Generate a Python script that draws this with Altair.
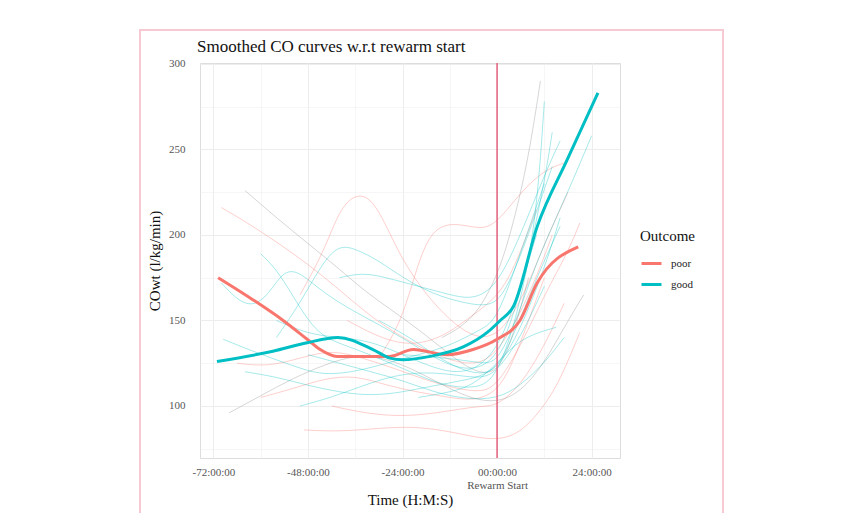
import altair as alt
import pandas as pd

# ---------------- data ----------------
chart_title = "Smoothed CO curves w.r.t rewarm start"

# individual smoothed patient curves: hours relative to rewarm start, COwt values
curve_tone = {
    "p1": "poor", "p2": "poor", "p3": "poor", "p4": "poor", "p5": "poor",
    "p6": "poor", "p7": "poor", "p8": "poor",
    "g1": "mixed", "g2": "mixed", "g3": "mixed",
    "c1": "good", "c2": "good", "c3": "good", "c4": "good", "c5": "good",
    "c6": "good", "c7": "good", "c8": "good", "c9": "good", "c10": "good",
    "c11": "good", "c12": "good",
}
curve_hours = {
    "p1": [-70, -64, -56, -48, -40, -32, -24, -16, -8, -2, 4, 10, 14],
    "p2": [-50, -44, -40, -36, -32, -28, -24, -18, -12, -6, 0, 6, 12, 18],
    "p3": [-30, -24, -20, -16, -10, -4, 0, 6, 12, 17],
    "p4": [-49, -40, -30, -22, -14, -6, 0, 6, 12, 16, 21],
    "p5": [-42, -34, -26, -18, -10, -4, 0, 6, 12, 17],
    "p6": [-66, -58, -50, -42, -34, -26, -18, -10, -4, 0, 6, 12, 18, 21],
    "p7": [-60, -52, -44, -36, -28, -20, -12, -6, 0, 4, 8, 12],
    "p8": [-38, -30, -22, -14, -8, -2, 2, 6, 10],
    "g1": [-64, -56, -48, -40, -34, -28, -20, -12, -6, 0, 4, 8],
    "g2": [-68, -60, -52, -44, -36, -28, -20, -12, -6, 0, 6, 12, 18, 22],
    "g3": [-14, -6, 0, 4, 8, 11],
    "c1": [-70, -66, -62, -58, -54, -50, -46, -40, -32, -24, -16, -8, 0, 6, 12, 14],
    "c2": [-60, -56, -52, -48, -44, -38, -30, -22, -14, -6, 0, 6, 10, 12],
    "c3": [-56, -50, -44, -40, -36, -30, -24, -16, -8, -2, 2, 8, 14],
    "c4": [-69.5, -62, -56, -50, -44, -36, -28, -20, -12, -4, 0, 6, 12],
    "c5": [-64, -56, -48, -40, -32, -24, -16, -8, 0, 6, 12, 16],
    "c6": [-50, -42, -34, -26, -18, -10, -4, 0, 6, 12],
    "c7": [-40, -34, -28, -20, -12, -6, 0, 6, 12, 16],
    "c8": [-30, -22, -16, -10, -4, 0, 4, 10, 16],
    "c9": [-48, -40, -32, -24, -16, -8, 0, 6, 12, 17],
    "c10": [-20, -12, -6, 0, 6, 15],
    "c11": [-24, -12, -4, 0, 5, 10, 18, 24],
    "c12": [-56, -48, -40, -32, -24, -16, -8, 0, 6, 10],
}
curve_values = {
    "p1": [216, 208, 196, 183, 168, 152, 140, 130, 124, 126, 145, 175, 200],
    "p2": [165, 190, 215, 224, 222, 205, 185, 165, 150, 140, 140, 160, 195, 225],
    "p3": [128, 150, 185, 205, 207, 203, 207, 225, 238, 242],
    "p4": [86, 85, 87, 88, 86, 82, 80, 84, 100, 115, 143],
    "p5": [100, 96, 94, 95, 98, 100, 100, 112, 135, 160],
    "p6": [125, 123, 128, 133, 128, 122, 115, 110, 108, 112, 135, 165, 190, 207],
    "p7": [105, 110, 116, 118, 112, 108, 105, 103, 108, 125, 150, 175],
    "p8": [150, 140, 135, 140, 150, 160, 170, 190, 215],
    "g1": [226, 210, 195, 180, 168, 158, 145, 130, 120, 118, 140, 175],
    "g2": [96, 106, 116, 124, 130, 128, 120, 110, 104, 102, 108, 125, 150, 165],
    "g3": [140, 150, 175, 205, 245, 290],
    "c1": [172, 162, 158, 165, 180, 178, 170, 160, 150, 140, 128, 120, 125, 165, 230, 260],
    "c2": [189, 180, 165, 150, 140, 135, 128, 120, 112, 110, 115, 160, 210, 278],
    "c3": [140, 160, 185, 194, 192, 185, 175, 165, 160, 158, 165, 200, 240],
    "c4": [139, 132, 127, 122, 118, 120, 125, 130, 135, 145, 150, 190, 230],
    "c5": [120, 117, 112, 108, 106, 108, 112, 115, 120, 145, 180, 210],
    "c6": [100, 105, 112, 118, 120, 118, 116, 120, 140, 170],
    "c7": [175, 178, 175, 170, 165, 162, 170, 200, 235, 255],
    "c8": [150, 140, 130, 122, 118, 122, 140, 175, 205],
    "c9": [130, 125, 120, 115, 108, 104, 104, 112, 125, 140],
    "c10": [105, 108, 112, 125, 140, 146],
    "c11": [130, 128, 125, 125, 150, 185, 225, 258],
    "c12": [150, 142, 140, 138, 130, 122, 118, 130, 170, 200],
}

# group mean curves (thick lines)
poor_hours = [-70.8, -61.9, -54.3, -48.2, -44.9, -40.6, -31.5, -27.2, -21.3, -12.7, -6.1, 0, 5.8, 10.2, 20.6]
poor_values = [175, 162, 150, 139, 133, 129, 129, 129, 133, 130, 133, 139, 150, 172, 193]
good_hours = [-71.1, -56.9, -48.2, -40.4, -31.5, -27.2, -23.9, -17.0, -8.6, -2.5, 0.8, 4.1, 10.2, 17.8, 25.6]
good_values = [126, 132, 137, 140, 133, 128, 127, 129, 134.5, 143, 150, 158, 205, 244, 283]

outcomes = ["poor", "good"]
rewarm_hour = [0]

x_major = [-72, -48, -24, 0, 24]
x_minor = [-60, -36, -12, 12]
x_labels = ["-72:00:00", "-48:00:00", "-24:00:00", "00:00:00", "24:00:00"]
rewarm_label = "Rewarm Start"
y_major = [100, 150, 200, 250, 300]
y_minor = [75, 125, 175, 225, 275]

# ---------------- tables ----------------
rows = []
for cid, hrs in curve_hours.items():
    for h, v in zip(hrs, curve_values[cid]):
        rows.append({"id": cid, "tone": curve_tone[cid], "hour": h, "value": v})
thin_df = pd.DataFrame(rows)

mean_rows = [{"outcome": "poor", "hour": h, "value": v} for h, v in zip(poor_hours, poor_values)]
mean_rows += [{"outcome": "good", "hour": h, "value": v} for h, v in zip(good_hours, good_values)]
mean_df = pd.DataFrame(mean_rows)

# ---------------- styling ----------------
FONT = "Liberation Serif"
POOR = "#F8766D"
GOOD = "#00BFC4"

label_parts = []
for v, lab in zip(x_major, x_labels):
    if v == 0:
        label_parts.append(f"datum.value == {v} ? ['{lab}', '{rewarm_label}']")
    else:
        label_parts.append(f"datum.value == {v} ? '{lab}'")
x_label_expr = " : ".join(label_parts) + " : ''"
y_label_expr = " : ".join(f"datum.value == {v} ? '{v}'" for v in y_major) + " : ''"

x_scale = alt.Scale(domain=[-75.4, 31.2], nice=False, zero=False)
y_scale = alt.Scale(domain=[69.6, 300.5], nice=False, zero=False)

x_axis = alt.Axis(
    values=sorted(x_major + x_minor), labelExpr=x_label_expr, title="Time (H:M:S)",
    domain=False, ticks=False, labelPadding=8, labelFont=FONT, labelFontSize=11,
    labelColor="#555555", labelLineHeight=13, titleFont=FONT, titleFontSize=15,
    titleFontWeight="normal", titleColor="#111111", titlePadding=2,
    gridColor="#EDEDED",
    gridWidth={"condition": {"test": "datum.value % 24 != 0", "value": 0.5}, "value": 1},
)
y_axis = alt.Axis(
    values=sorted(y_major + y_minor), labelExpr=y_label_expr, title="COwt (l/kg/min)",
    domain=False, ticks=False, labelPadding=15, labelFont=FONT, labelFontSize=11,
    labelColor="#555555", titleFont=FONT, titleFontSize=15, titleFontWeight="normal",
    titleColor="#111111", titlePadding=6, gridColor="#EDEDED",
    gridWidth={"condition": {"test": "datum.value % 50 != 0", "value": 0.5}, "value": 1},
)

base_x = alt.X("hour:Q", scale=x_scale, axis=x_axis)
base_y = alt.Y("value:Q", scale=y_scale, axis=y_axis)

thin = alt.Chart(thin_df).mark_line(strokeWidth=1, opacity=0.35, interpolate="basis").encode(
    x=base_x, y=base_y,
    color=alt.Color("tone:N", scale=alt.Scale(domain=["poor", "good", "mixed"],
                                              range=[POOR, GOOD, "#8A8A8A"]), legend=None),
    detail="id:N",
)

vline = alt.Chart(pd.DataFrame({"hour": rewarm_hour})).mark_rule(
    color="#E3607C", strokeWidth=1.5
).encode(x=alt.X("hour:Q", scale=x_scale))

thick = alt.Chart(mean_df).mark_line(strokeWidth=3, interpolate="monotone").encode(
    x=alt.X("hour:Q", scale=x_scale), y=alt.Y("value:Q", scale=y_scale),
    color=alt.Color("outcome:N", scale=alt.Scale(domain=outcomes, range=[POOR, GOOD]),
                    sort=outcomes,
                    legend=alt.Legend(title="Outcome", orient="none", legendX=440, legendY=166,
                                      symbolType="stroke", symbolSize=400, symbolStrokeWidth=3,
                                      labelFont=FONT, labelFontSize=11, titleFont=FONT,
                                      titleFontSize=15, titleFontWeight="normal",
                                      titleColor="#111111", labelColor="#222222",
                                      rowPadding=3, titlePadding=8, labelOffset=8)),
)

frame = alt.Chart(pd.DataFrame({"k": [0]})).mark_rect(
    fillOpacity=0, stroke="#F7C9D2", strokeWidth=2
).encode(x=alt.value(-60), x2=alt.value(523), y=alt.value(-33), y2=alt.value(480))

title = alt.Chart(pd.DataFrame({"t": [chart_title]})).mark_text(
    font=FONT, fontSize=17, color="#111111", align="left", baseline="alphabetic"
).encode(text="t:N", x=alt.value(-3), y=alt.value(-11))

chart = alt.layer(thin, vline, thick, frame, title).resolve_scale(color="independent").properties(
    width=420, height=395,
    autosize=alt.AutoSizeParams(type="none"),
    padding={"left": 192, "top": 55, "right": 225, "bottom": 62},
).configure_view(stroke=None).configure(background="white")

chart.save("out.html", embed_options={"renderer": "svg", "actions": False})
